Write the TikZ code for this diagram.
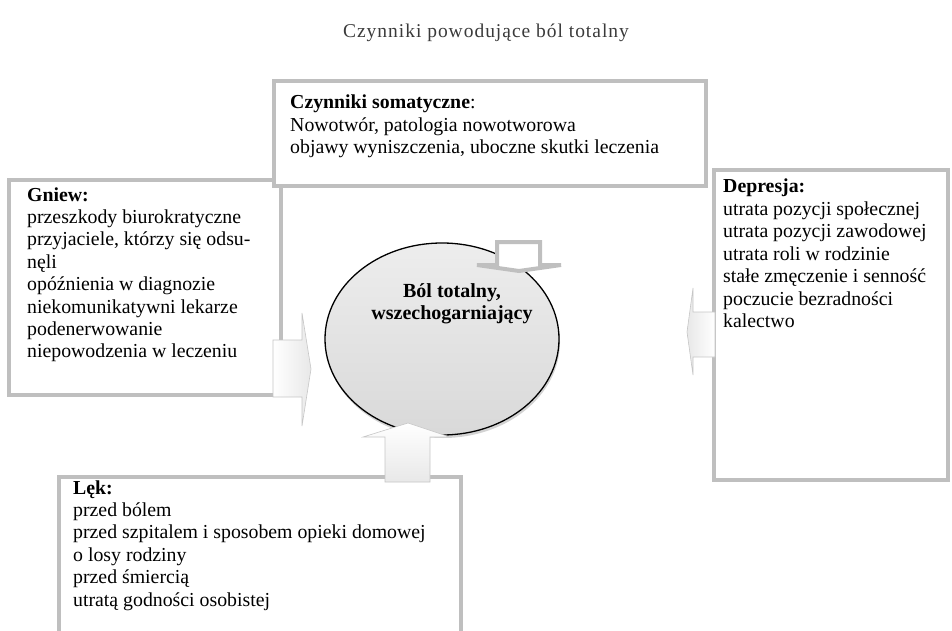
\documentclass[tikz,border=0pt]{standalone}
\usepackage{fontspec}
\setmainfont{Liberation Serif}
\usetikzlibrary{shapes.geometric,shadows}
\definecolor{boxgray}{HTML}{BFBFBF}
\definecolor{titlegray}{HTML}{3A3A3A}
\newcommand{\boxlines}[1]{\vtop{\baselineskip=22.4pt\lineskiplimit=-20pt\lineskip=0pt #1}}
\begin{document}
\begin{tikzpicture}[x=1pt,y=-1pt,
  framebox/.style={draw=boxgray, line width=4.5pt, fill=white, inner sep=0pt, outer sep=0pt, rectangle},
  boxtext/.style={anchor=base west, inner sep=0pt, font=\fontsize{19.8}{22.4}\selectfont},
  blockarrowgray/.style={draw=boxgray, line width=4pt, fill=white, line join=miter},
  blockarrowsoft/.style={draw=gray!45, line width=0.6pt, line join=miter},
]
\useasboundingbox (0,0) rectangle (952,631);

% title
\node[anchor=base, inner sep=0pt, text=titlegray,
  font=\fontsize{19.5}{22}\selectfont\addfontfeature{LetterSpace=5}] (title) at (486,38) {Czynniki powodujące ból totalny};

% frames
\node[framebox, minimum width=272pt, minimum height=215pt] (gniewbox) at (145,287.5) {};
\node[framebox, minimum width=234pt, minimum height=310pt] (depbox) at (831,325) {};
\node[framebox, minimum width=432pt, minimum height=105pt] (somabox) at (490,133.5) {};
\node[framebox, minimum width=402pt, minimum height=223pt] (lekbox) at (260,588.5) {};

% texts
\node[boxtext] (somatext) at (290,109) {\boxlines{%
  \hbox{\textbf{Czynniki somatyczne}:}
  \hbox{Nowotwór, patologia nowotworowa}
  \hbox{objawy wyniszczenia, uboczne skutki leczenia}}};
\node[boxtext] (gniewtext) at (27,201) {\boxlines{%
  \hbox{\textbf{Gniew:}}
  \hbox{przeszkody biurokratyczne}
  \hbox{przyjaciele, którzy się odsu-}
  \hbox{nęli}
  \hbox{opóźnienia w diagnozie}
  \hbox{niekomunikatywni lekarze}
  \hbox{podenerwowanie}
  \hbox{niepowodzenia w leczeniu}}};
\node[boxtext] (deptext) at (723,193) {\boxlines{%
  \hbox{\textbf{Depresja:}}
  \hbox{utrata pozycji społecznej}
  \hbox{utrata pozycji zawodowej}
  \hbox{utrata roli w rodzinie}
  \hbox{stałe zmęczenie i senność}
  \hbox{poczucie bezradności}
  \hbox{kalectwo}}};
\node[boxtext] (lektext) at (73,494) {\boxlines{%
  \hbox{\textbf{Lęk:}}
  \hbox{przed bólem}
  \hbox{przed szpitalem i sposobem opieki domowej}
  \hbox{o losy rodziny}
  \hbox{przed śmiercią}
  \hbox{utratą godności osobistej}}};

% central ellipse
\node[ellipse, minimum width=234pt, minimum height=192pt, draw=black, line width=1.3pt,
  top color=gray!14, bottom color=gray!30,
  drop shadow={shadow xshift=1pt, shadow yshift=-3pt, opacity=0.35}] (center) at (442,339) {};

% block arrows
\draw[blockarrowgray] (497,242) -- (540,242) -- (540,265) -- (561,265) -- (519,271)
  -- (477,265) -- (497,265) -- cycle;
\draw[blockarrowsoft, left color=white, right color=gray!18]
  (273,340) -- (302,340) -- (302,313) -- (311,369) -- (302,426) -- (302,397) -- (273,397) -- cycle;
\draw[blockarrowsoft, right color=white, left color=gray!18]
  (715,312) -- (693,312) -- (693,288) -- (687,332) -- (693,375) -- (693,357) -- (715,357) -- cycle;
\draw[blockarrowsoft, top color=white, bottom color=gray!18]
  (385,482) -- (385,437) -- (363,437) -- (408,423) -- (450,437) -- (430,437) -- (430,482) -- cycle;

% ellipse text
\node[anchor=base, inner sep=0pt, font=\fontsize{20}{22.4}\selectfont\bfseries] (centertext) at (452,297)
  {\boxlines{\halign{\hfil#\hfil\cr Ból totalny,\cr wszechogarniający\cr}}};
\end{tikzpicture}
\end{document}
